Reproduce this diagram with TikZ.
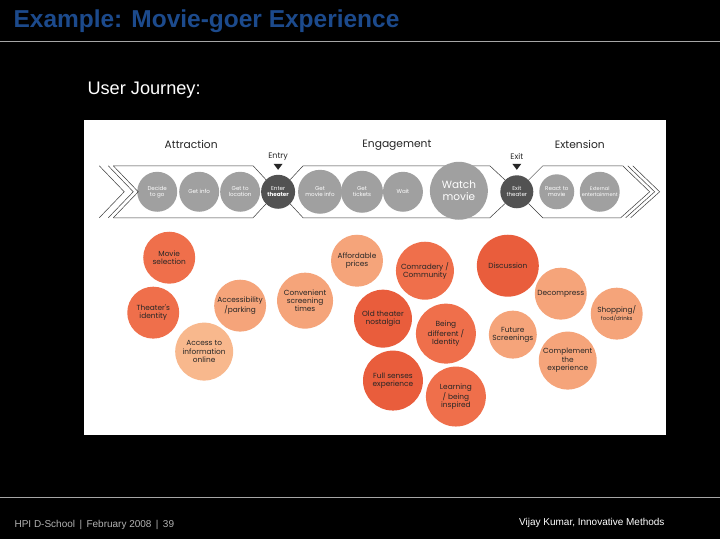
\documentclass[tikz,border=0pt]{standalone}
\usepackage{fontspec}
\setmainfont{Liberation Sans}
\newfontfamily\diagfont{Poppins}
\definecolor{titleblue}{HTML}{1C4A8C}
\definecolor{touchgray}{HTML}{A0A0A0}
\definecolor{touchdark}{HTML}{525252}
\definecolor{bandline}{HTML}{3A3A3A}
\definecolor{deeporange}{HTML}{E95D3C}
\definecolor{midorange}{HTML}{EF6F4B}
\definecolor{lightorange}{HTML}{F5A47A}
\definecolor{paleorange}{HTML}{F8B88D}

\begin{document}
\begin{tikzpicture}[
        x=1pt, y=-1pt,
        touch/.style={circle, fill=touchgray, text=white, align=center, inner sep=0pt, minimum size=40pt, font=\diagfont\fontsize{5.6}{6.2}\selectfont},
        keytouch/.style={touch, fill=touchdark, minimum size=34pt},
        theme/.style={circle, fill=#1, text=black!85, align=center, inner sep=0pt, font=\diagfont\fontsize{7.4}{8.4}\selectfont},
        phase/.style={font=\diagfont\fontsize{10.7}{12}\selectfont, text=black!85},
        marker/.style={font=\diagfont\fontsize{8}{9}\selectfont, text=black!85},
        band/.style={draw=bandline, line width=0.5pt}
    ]

    % --- Slide ---
    \fill[black] (0,0) rectangle (720,540);
    \node[anchor=west, inner sep=0pt, text=titleblue, font=\bfseries\fontsize{24.5}{27}\selectfont] (title) at (13,21) {Example: Movie-goer Experience};
    \draw[gray!70, line width=0.8pt] (0,41) -- (720,41);
    \node[anchor=west, inner sep=0pt, text=white, font=\fontsize{18.2}{20}\selectfont] (journey) at (87,90) {User Journey:};
    \fill[white] (84,120) rectangle (666,435);

    % --- Phases ---
    \node[phase] (attraction) at (191,145) {Attraction};
    \node[phase] (engagement) at (397,145) {Engagement};
    \node[phase] (extension) at (580,145) {Extension};
    \node[marker] (entry) at (278,157) {Entry};
    \node[marker] (exitlabel) at (517,157) {Exit};
    \fill[black!85] (273.5,164) -- (282.5,164) -- (278,170) -- cycle;
    \fill[black!85] (512.5,164) -- (521.5,164) -- (517,170) -- cycle;

    % --- Touch points ---
    \node[touch] (decide) at (157,192) {Decide\\to go};
    \node[touch] (getinfo) at (199,192) {Get info};
    \node[touch] (location) at (240,192) {Get to\\location};
    \node[keytouch] (enter) at (278,192) {Enter\\\textbf{theater}};
    \node[touch, minimum size=44pt] (movieinfo) at (320,192) {Get\\movie info};
    \node[touch, minimum size=42pt] (tickets) at (362,192) {Get\\tickets};
    \node[touch] (wait) at (403,192) {Wait};
    \node[keytouch, minimum size=33pt] (exit) at (517,192) {Exit\\theater};
    \node[touch, minimum size=35pt] (react) at (557,192) {React to\\movie};
    \node[touch, font=\diagfont\fontsize{5}{6}\selectfont] (external) at (600,192) {External\\entertainment};

    % --- Band outline ---
    \draw[band] (99,166) -- (124,192) -- (99,218);
    \draw[band] (108,166) -- (133,192) -- (108,218);
    \draw[band] (113,166) -- (138,192) -- (113,218);
    \draw[band] (113,166) -- (253,166) -- (enter.135);
    \draw[band] (113,218) -- (253,218) -- (enter.225);
    \draw[band] (enter.45) -- (303,166) -- (490,166) -- (exit.135);
    \draw[band] (enter.315) -- (303,218) -- (490,218) -- (exit.225);
    \draw[band] (exit.45) -- (543,166) -- (623,166);
    \draw[band] (exit.315) -- (543,218) -- (621,218);
    \draw[band] (623,166) -- (650,192) -- (621,218);
    \draw[band] (628,166) -- (655,192) -- (626,218);
    \draw[band] (633,166) -- (660,192) -- (631,218);

    \node[touch, minimum size=58pt, font=\diagfont\fontsize{10.5}{11.5}\selectfont] (watch) at (459,191) {Watch\\movie};

    % --- Attraction themes ---
    \node[theme=midorange, minimum size=52pt] (selection) at (169,258) {Movie\\selection};
    \node[theme=midorange, minimum size=52pt] (identity) at (153,313) {Theater's\\identity};
    \node[theme=lightorange, minimum size=52pt] (parking) at (240,306) {Accessibility\\/parking};
    \node[theme=paleorange, minimum size=58pt] (online) at (204,352) {Access to\\information\\online};
    \node[theme=lightorange, minimum size=56pt] (times) at (305,301) {Convenient\\screening\\times};

    % --- Engagement themes ---
    \node[theme=lightorange, minimum size=52pt] (prices) at (357,261) {Affordable\\prices};
    \node[theme=midorange, minimum size=58pt] (community) at (425,271) {Comradery /\\Community};
    \node[theme=deeporange, minimum size=58pt] (nostalgia) at (383,319) {Old theater\\nostalgia};
    \node[theme=midorange, minimum size=60pt] (different) at (446,334) {Being\\different /\\Identity};
    \node[theme=deeporange, minimum size=60pt] (senses) at (393,381) {Full senses\\experience};
    \node[theme=midorange, minimum size=60pt] (learning) at (456,397) {Learning\\/ being\\inspired};

    % --- Extension themes ---
    \node[theme=deeporange, minimum size=62pt] (discussion) at (508,266) {Discussion};
    \node[theme=lightorange, minimum size=52pt] (decompress) at (561,294) {Decompress};
    \node[theme=lightorange, minimum size=52pt] (shopping) at (617,314) {Shopping/\\{\fontsize{5.5}{6.5}\selectfont food/drinks}};
    \node[theme=lightorange, minimum size=48pt] (future) at (513,335) {Future\\Screenings};
    \node[theme=lightorange, minimum size=58pt] (complement) at (568,361) {Complement\\the\\experience};

    % --- Footer ---
    \draw[gray!70, line width=0.8pt] (0,498) -- (720,498);
    \node[anchor=west, inner sep=0pt, text=gray!60, font=\fontsize{10}{12}\selectfont] (source) at (14,526) {HPI D-School \,|\, February 2008 \,|\, 39};
    \node[anchor=east, inner sep=0pt, text=white, font=\fontsize{10}{12}\selectfont] (author) at (665,523) {Vijay Kumar, Innovative Methods};

\end{tikzpicture}
\end{document}
